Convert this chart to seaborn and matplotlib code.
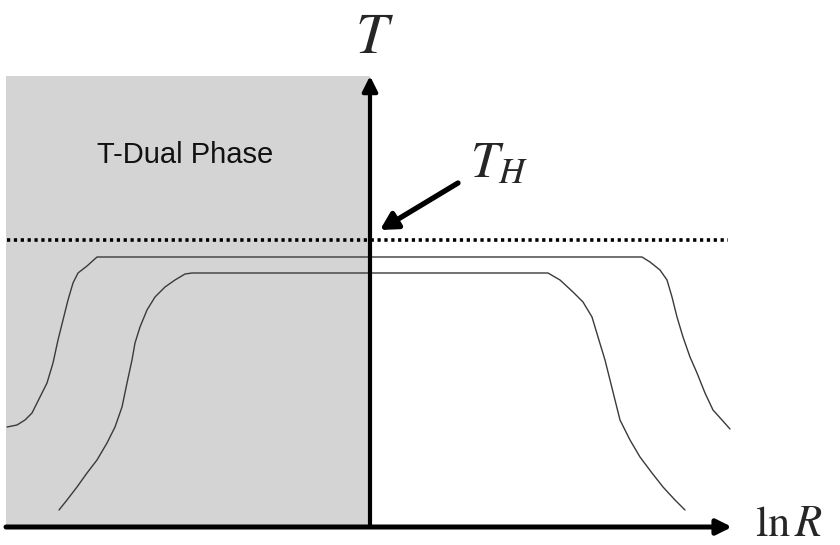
import pandas as pd
import matplotlib
matplotlib.use('Agg')
import matplotlib.pyplot as plt
import seaborn as sns

# Curve samples (x = ln R, y = T, axis origin at 0,0)
outer_x = [-3.63, -3.53, -3.45, -3.38, -3.30, -3.23, -3.17, -3.12, -3.07, -3.02, -2.97, -2.92, -2.83, -2.73,
           2.72, 2.80, 2.90, 2.97, 3.02, 3.07, 3.13, 3.20, 3.27, 3.35, 3.43, 3.52, 3.60]
outer_y = [1.00, 1.02, 1.07, 1.14, 1.30, 1.44, 1.64, 1.87, 2.07, 2.27, 2.44, 2.54, 2.61, 2.70,
           2.70, 2.65, 2.57, 2.47, 2.30, 2.10, 1.90, 1.70, 1.54, 1.34, 1.17, 1.07, 0.98]

inner_x = [-3.11, -3.03, -2.93, -2.83, -2.73, -2.63, -2.55, -2.48, -2.43, -2.38, -2.35, -2.30, -2.23, -2.15,
           -2.05, -1.95, -1.85, -1.78,
           1.78, 1.90, 2.03, 2.13, 2.22, 2.28, 2.35, 2.40, 2.45, 2.50, 2.60, 2.70, 2.82, 2.93, 3.05, 3.15]
inner_y = [0.17, 0.27, 0.40, 0.54, 0.67, 0.84, 1.00, 1.20, 1.44, 1.67, 1.84, 2.00, 2.17, 2.30,
           2.40, 2.47, 2.53, 2.54,
           2.54, 2.47, 2.35, 2.25, 2.10, 1.90, 1.67, 1.47, 1.27, 1.07, 0.87, 0.70, 0.54, 0.40, 0.27, 0.17]

t_hagedorn = 2.87
dual_x = [-3.64, 0.0]
dual_top = 4.51
axis_x = [-3.64, 3.62]

curves = pd.concat([
    pd.DataFrame({'lnR': outer_x, 'T': outer_y, 'curve': 'outer'}),
    pd.DataFrame({'lnR': inner_x, 'T': inner_y, 'curve': 'inner'}),
])

sns.set_style('white')
plt.rcParams['mathtext.fontset'] = 'stix'

fig = plt.figure(figsize=(8.4, 5.45), dpi=100)
ax = fig.add_axes([0, 0, 1, 1])
ax.set_xlim(-3.70, 4.70)
ax.set_ylim(-0.18, 5.27)
ax.axis('off')

# shaded T-dual region
ax.fill_between(dual_x, 0, dual_top, color='#d4d4d4', lw=0, zorder=0)

# Hagedorn temperature
ax.plot([axis_x[0] + 0.01, 3.58], [t_hagedorn, t_hagedorn], color='black', lw=2.6,
        linestyle=(0, (0.9, 1.0)), zorder=2)

sns.lineplot(data=curves, x='lnR', y='T', units='curve', estimator=None, sort=False,
             color='#3a3a3a', lw=1.0, ax=ax, zorder=3)

# axes arrows
ax.annotate('', xy=(axis_x[1], 0), xytext=(axis_x[0], 0),
            arrowprops=dict(arrowstyle='-|>,head_length=0.9,head_width=0.45', mutation_scale=10,
                            lw=3.6, color='black', shrinkA=0, shrinkB=0), zorder=5)
ax.annotate('', xy=(0, dual_top), xytext=(0, 0),
            arrowprops=dict(arrowstyle='-|>,head_length=0.9,head_width=0.45', mutation_scale=10,
                            lw=3.0, color='black', shrinkA=0, shrinkB=0), zorder=5)

# pointer to T_H
ax.annotate('', xy=(0.10, 2.97), xytext=(0.88, 3.44),
            arrowprops=dict(arrowstyle='-|>,head_length=1.0,head_width=0.55', mutation_scale=10,
                            lw=3.8, color='black', shrinkA=0, shrinkB=0), zorder=5)

ax.text(0.04, 4.74, r'$T$', fontsize=42, ha='center', va='baseline')
ax.text(1.00, 3.50, r'$T_H$', fontsize=37, ha='left', va='baseline')
ax.text(3.85, -0.09, r'$\ln R$', fontsize=32, ha='left', va='baseline')
ax.text(-1.85, 3.72, 'T-Dual Phase', fontsize=21, family='Liberation Sans',
        ha='center', va='center', color='#111111')

plt.savefig('out.png', dpi=100)
